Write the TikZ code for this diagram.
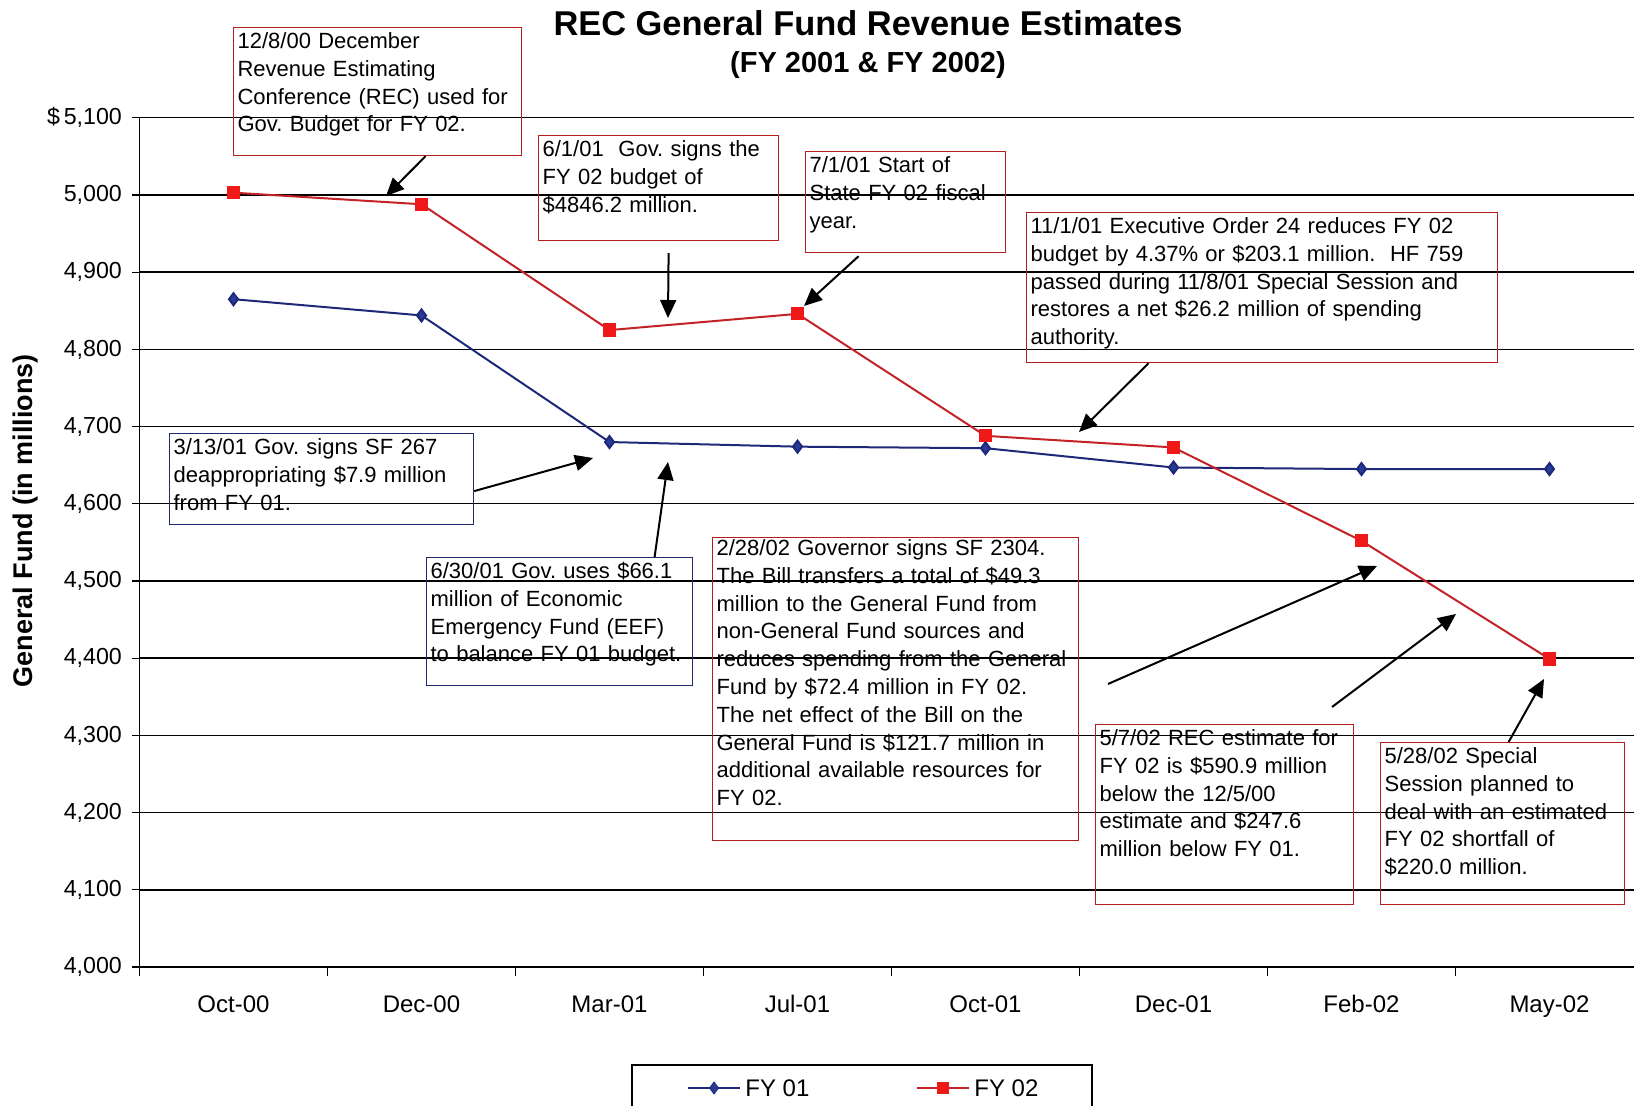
\documentclass[tikz,border=0pt]{standalone}
\usepackage{fontspec}
\setmainfont{Liberation Sans}
\usetikzlibrary{arrows.meta,plotmarks}
\frenchspacing

\definecolor{fyone}{RGB}{30,40,120}
\definecolor{fyonemark}{RGB}{40,60,150}
\definecolor{fytwo}{RGB}{195,35,40}
\definecolor{fytwomark}{RGB}{240,25,25}
\definecolor{notered}{RGB}{180,30,30}
\definecolor{noteblue}{RGB}{30,40,115}

\tikzset{
  note/.style={draw=notered,line width=0.6pt,anchor=north west,align=left,inner sep=2pt,
    text height=8.5pt,font=\fontsize{11}{13.9}\selectfont},
  bluenote/.style={note,draw=noteblue},
  pointer/.style={-{Triangle[length=9pt,width=8pt]},line width=1pt},
  gridline/.style={line width=0.7pt},
  fyonemarks/.style={mark=diamond*,mark size=3pt,mark options={fill=fyonemark,draw=fyone}},
  fytwomarks/.style={mark=square*,mark size=2.8pt,mark options={fill=fytwomark,draw=fytwomark}},
}

\begin{document}
\begin{tikzpicture}[x=0.5pt,y=-0.5pt]
\useasboundingbox (0,0) rectangle (1634,1106);
\clip (0,0) rectangle (1634,1106);

\node[font=\bfseries\fontsize{17.2}{20}\selectfont] (title) at (868,23) {REC General Fund Revenue Estimates};
\node[font=\bfseries\fontsize{14.5}{17}\selectfont] (subtitle) at (868,65) {(FY 2001 \& FY 2002)};
\node[rotate=90,font=\bfseries\fontsize{13.5}{16}\selectfont] (ytitle) at (26,521) {General Fund (in millions)};

\begin{scope}[shift={(233.5,967)},x=94pt,y=0.386pt]
\foreach \v in {100,200,...,1100}
    \draw[gridline] (-0.5,\v) -- (7.5,\v);
\draw[line width=0.8pt] (-0.5,1100) -- (-0.5,0) -- (7.5,0);
\foreach \v/\t in {0/{4,000},100/{4,100},200/{4,200},300/{4,300},400/{4,400},500/{4,500},
    600/{4,600},700/{4,700},800/{4,800},900/{4,900},1000/{5,000},1100/{\$\,5,100}}
    \draw[line width=0.6pt] (-0.5,\v) -- ++(-4pt,0)
        node[left=4.5pt,inner sep=0pt,font=\fontsize{11.6}{14}\selectfont] (ytick\v) {\t};
\foreach \i in {0,...,7}
    \draw[line width=0.6pt] (\i-0.5,0) -- ++(0,-4.5pt);
\foreach \m [count=\i from 0] in {Oct-00,Dec-00,Mar-01,Jul-01,Oct-01,Dec-01,Feb-02,May-02}
    \node[anchor=base,font=\fontsize{12}{14}\selectfont] (month\i) at (\i,-59) {\m};

\draw[fyone,line width=1pt] plot[fyonemarks] coordinates
    {(0,865) (1,844) (2,680) (3,674) (4,672) (5,647) (6,645) (7,645)};
\draw[fytwo,line width=1pt] plot[fytwomarks] coordinates
    {(0,1003) (1,988) (2,825) (3,846) (4,688) (5,673) (6,552) (7,399)};
\end{scope}

% notes
\node[note,text width=140pt,text depth=51.5pt] (recnote) at (233,27)
    {12/8/00 December\\Revenue Estimating\\Conference (REC) used for\\Gov. Budget for FY 02.};
\node[note,text width=116pt,text depth=40pt] (signnote) at (538,135)
    {6/1/01\ \ Gov. signs the\\FY 02 budget of\\\$4846.2 million.};
\node[note,text width=96pt,text depth=38pt] (startnote) at (805,151)
    {7/1/01 Start of\\State FY 02 fiscal\\year.};
\node[note,text width=231.5pt,text depth=62.5pt] (ordernote) at (1026,212)
    {11/1/01 Executive Order 24 reduces FY 02\\budget by 4.37\% or \$203.1 million.\ \ HF 759\\passed during 11/8/01 Special Session and\\restores a net \$26.2 million of spending\\authority.};
\node[bluenote,text width=148pt,text depth=33pt] (deapnote) at (169,433)
    {3/13/01 Gov. signs SF 267\\deappropriating \$7.9 million\\from FY 01.};
\node[bluenote,text width=129pt,text depth=51.5pt] (eefnote) at (426,557)
    {6/30/01 Gov. uses \$66.1\\million of Economic\\Emergency Fund (EEF)\\to balance FY 01 budget.};
\node[note,text width=179pt,text height=7pt,text depth=140.5pt] (billnote) at (712,537)
    {2/28/02 Governor signs SF 2304.\\The Bill transfers a total of \$49.3\\million to the General Fund from\\non-General Fund sources and\\reduces spending from the General\\Fund by \$72.4 million in FY 02.\\The net effect of the Bill on the\\General Fund is \$121.7 million in\\additional available resources for\\FY 02.};
\node[note,text width=125pt,text depth=77.5pt] (estnote) at (1095,724)
    {5/7/02 REC estimate for\\FY 02 is \$590.9 million\\below the 12/5/00\\estimate and \$247.6\\million below FY 01.};
\node[note,text width=118pt,text depth=68.5pt] (sessnote) at (1380,742)
    {5/28/02 Special\\Session planned to\\deal with an estimated\\FY 02 shortfall of\\\$220.0 million.};

% arrows
\coordinate (rectip) at (386,196);
\coordinate (signtip) at (668,318);
\coordinate (starttip) at (804,306);
\coordinate (ordertip) at (1079,432);
\coordinate (deaptip) at (593,458);
\coordinate (eeftip) at (668,462);
\coordinate (billtail) at (1108,684);
\coordinate (billtip) at (1377,566);
\coordinate (esttail) at (1332,707);
\coordinate (esttip) at (1456,614);
\coordinate (sesstip) at (1544,679);
\draw[pointer] ([xshift=24pt]recnote.south) -- (rectip);
\draw[pointer] ([xshift=5pt,yshift=-6pt]signnote.south) -- (signtip);
\draw[pointer] ([xshift=-23.5pt,yshift=-1.5pt]startnote.south) -- (starttip);
\draw[pointer] ([xshift=-56.75pt]ordernote.south) -- (ordertip);
\draw[pointer] ([yshift=-6pt]deapnote.east) -- (deaptip);
\draw[pointer] ([xshift=47.5pt]eefnote.north) -- (eeftip);
\draw[pointer] (billtail) -- (billtip);
\draw[pointer] (esttail) -- (esttip);
\draw[pointer] ([xshift=3pt]sessnote.north) -- (sesstip);

% legend
\draw[line width=0.6pt] (632,1065) rectangle (1092,1130);
\draw[fyone,line width=1pt] (688,1088) -- (740,1088);
\path plot[fyonemarks] coordinates {(714,1088)};
\node[anchor=west,inner sep=0pt,font=\fontsize{12}{14}\selectfont] (fyonekey) at (745,1088) {FY 01};
\draw[fytwo,line width=1pt] (917,1088) -- (969,1088);
\path plot[fytwomarks] coordinates {(943,1088)};
\node[anchor=west,inner sep=0pt,font=\fontsize{12}{14}\selectfont] (fytwokey) at (974,1088) {FY 02};
\end{tikzpicture}
\end{document}
